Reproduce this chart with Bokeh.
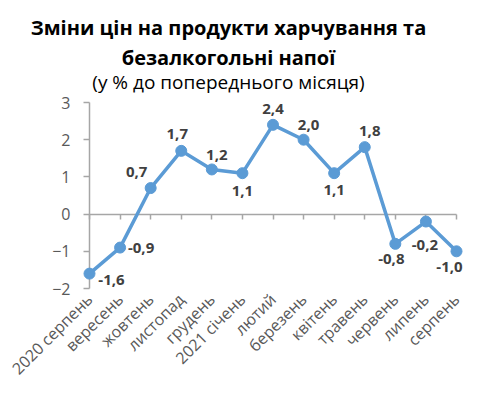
from math import pi
from bokeh.plotting import figure
from bokeh.models import Range1d, FixedTicker, LinearAxis, Label, ColumnDataSource
from bokeh.core.properties import value
from bokeh.embed import file_html
from bokeh.resources import INLINE

# ---- data ----
months = ["2020 серпень", "вересень", "жовтень", "листопад", "грудень", "2021 січень",
          "лютий", "березень", "квітень", "травень", "червень", "липень", "серпень"]
changes = [-1.6, -0.9, 0.7, 1.7, 1.2, 1.1, 2.4, 2.0, 1.1, 1.8, -0.8, -0.2, -1.0]
y_ticks = [-2, -1, 0, 1, 2, 3]
title_line1 = "Зміни цін на продукти харчування та"
title_line2 = "безалкогольні напої"
subtitle = "(у % до попереднього місяця)"

# ---- layout (style, pixels) ----
W, H = 480, 396
AXIS_X = 89.0          # pixel x of first category
LAST_X = 456.0         # pixel x of last category
TOP_Y = 102.0          # pixel y of top tick
BOT_Y = 288.0          # pixel y of bottom tick
FRAME_BOT = 296        # pixel y where the category labels start
lab_dx = [22, 21, -14, -4, 5, 0, 0, 5, 0, 5, -4, -1, -7]
lab_dy = [6, 0, -16, -17, -14, 18, -16, -15, 17, -16, 15, 23, 16]

FONT = "Open Sans"
BLUE = "#5B9BD5"
AX = "#A6A6A6"
TXT = "#595959"

xs = list(range(len(months)))
src = ColumnDataSource(dict(
    x=xs, y=changes,
    lab=[f"{v:.1f}".replace(".", ",") for v in changes],
    dx=lab_dx, dy=lab_dy,
))

# ranges so that the frame fills the canvas width and runs from the top down to the x labels
sx = (LAST_X - AXIS_X) / (xs[-1] - xs[0])
x0 = xs[0] - AXIS_X / sx
x1 = xs[-1] + (W - LAST_X) / sx
sy = (BOT_Y - TOP_Y) / (y_ticks[-1] - y_ticks[0])
y1 = y_ticks[-1] + TOP_Y / sy
y0 = y_ticks[0] - (FRAME_BOT - BOT_Y) / sy

p = figure(frame_width=W, frame_height=FRAME_BOT,
           x_range=Range1d(x0, x1), y_range=Range1d(y0, y1),
           x_axis_location=None, y_axis_location=None,
           output_backend="svg", toolbar_location=None,
           min_border_left=0, min_border_right=0, min_border_top=0,
           min_border_bottom=H - FRAME_BOT)
p.outline_line_color = None
p.background_fill_color = "white"
p.border_fill_color = "white"
p.grid.visible = False

# bottom axis: only rotated labels
xlab = LinearAxis(ticker=FixedTicker(ticks=xs),
                  major_label_overrides={i: m for i, m in enumerate(months)},
                  major_label_orientation=pi / 4,
                  axis_line_color=None, major_tick_line_color=None, minor_tick_line_color=None,
                  major_tick_in=0, major_tick_out=0,
                  major_label_text_font=FONT, major_label_text_font_size="16px",
                  major_label_text_color=TXT, major_label_standoff=0)
p.add_layout(xlab, "below")

# zero line with tick marks
xzero = LinearAxis(fixed_location=0, ticker=FixedTicker(ticks=xs), bounds=(xs[0], xs[-1]),
                   major_label_text_color=None, major_label_text_font_size="1px",
                   axis_line_color=AX, axis_line_width=1.5,
                   major_tick_line_color=AX, major_tick_line_width=1.5,
                   major_tick_in=0, major_tick_out=5, minor_tick_line_color=None)
xzero.level = "underlay"
p.add_layout(xzero, "below")

# y axis at x = first category
yax = LinearAxis(fixed_location=xs[0], ticker=FixedTicker(ticks=y_ticks),
                 bounds=(y_ticks[0], y_ticks[-1]),
                 axis_line_color=AX, axis_line_width=1.5,
                 major_tick_line_color=AX, major_tick_line_width=1.5,
                 major_tick_in=0, major_tick_out=6, minor_tick_line_color=None,
                 major_label_text_font=FONT, major_label_text_font_size="16px",
                 major_label_text_color=TXT, major_label_standoff=13)
yax.level = "underlay"
p.add_layout(yax, "left")

p.line("x", "y", source=src, line_color=BLUE, line_width=3.5)
p.scatter("x", "y", source=src, size=11, fill_color=BLUE, line_color=BLUE)
p.text("x", "y", text="lab", source=src, x_offset="dx", y_offset="dy",
       text_align="center", text_baseline="middle",
       text_font=value(FONT), text_font_style="bold", text_font_size="15px",
       text_color="#404040")

for txt, base, size, style in [(title_line1, 26.7, "20px", "bold"),
                               (title_line2, 56.7, "20px", "bold"),
                               (subtitle, 81.7, "19px", "normal")]:
    p.add_layout(Label(x=228, y=base, x_units="canvas", y_units="canvas", text=txt,
                       text_align="center", text_baseline="alphabetic",
                       text_font=FONT, text_font_size=size, text_font_style=style,
                       text_color="#000000"))

open("out.html", "w").write(file_html(p, INLINE))
